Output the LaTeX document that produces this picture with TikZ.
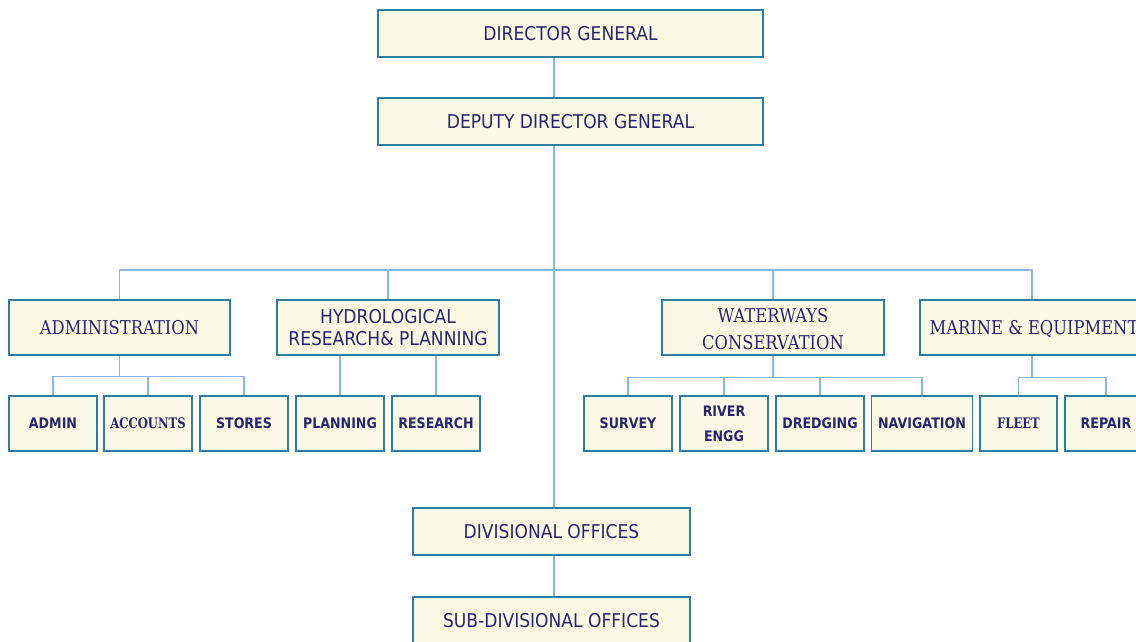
\documentclass[tikz,border=0pt]{standalone}
\usepackage{fontspec}
\newfontfamily\sansf[FakeStretch=0.9]{DejaVu Sans}
\newfontfamily\sansbf[FakeStretch=0.87]{DejaVu Sans}
\newfontfamily\serf[FakeStretch=0.86]{DejaVu Serif}
\newfontfamily\serbf[FakeStretch=0.8]{DejaVu Serif}
\definecolor{boxc}{RGB}{250,250,228}
\definecolor{bordc}{RGB}{45,125,165}
\definecolor{txtc}{RGB}{40,36,115}
\definecolor{conc}{RGB}{140,180,245}
\tikzset{
  box/.style={draw=bordc, fill=boxc, line width=1.6pt, text=txtc, align=center, inner sep=0pt},
  bigsans/.style={box, font=\sansf\fontsize{19}{22}\selectfont},
  bigserif/.style={box, font=\serf\fontsize{19}{27}\selectfont},
  smallsans/.style={box, font=\sansbf\bfseries\fontsize{14.5}{25}\selectfont, minimum width=88pt, minimum height=55pt},
  smallserif/.style={box, font=\serbf\bfseries\fontsize{14.5}{18}\selectfont, minimum width=88pt, minimum height=55pt},
  conn/.style={draw=conc, line width=1.3pt}
}
\begin{document}
\begin{tikzpicture}[x=1pt,y=-1pt]
\useasboundingbox (0,0) rectangle (1136,642);
\clip (0,0) rectangle (1136,642);
\fill[white] (0,0) rectangle (1136,642);

\coordinate (spine) at (554,0);
\coordinate (hub) at (554,270);

\node[bigsans, minimum width=385pt, minimum height=47pt] (dg) at (570.5,33.5) {DIRECTOR GENERAL};
\node[bigsans, minimum width=385pt, minimum height=47pt] (ddg) at (570.5,121.5) {DEPUTY DIRECTOR GENERAL};
\node[bigserif, minimum width=221pt, minimum height=55pt] (adm) at (119.5,327.5) {ADMINISTRATION};
\node[bigsans, minimum width=222pt, minimum height=55pt] (hyd) at (388,327.5) {HYDROLOGICAL\\RESEARCH\& PLANNING};
\node[bigserif, minimum width=222pt, minimum height=55pt] (ww) at (773,327.5) {\rule{0pt}{18pt}WATERWAYS\\CONSERVATION};
\node[bigserif, minimum width=224pt, minimum height=55pt, text depth=0pt] (mar) at (1032,327.5) {\hspace*{4pt}MARINE \& EQUIPMENT};

\node[smallsans] (admin) at (53,423.5) {ADMIN};
\node[smallserif] (acc) at (148,423.5) {ACCOUNTS};
\node[smallsans] (sto) at (244,423.5) {STORES};
\node[smallsans] (plan) at (340,423.5) {PLANNING};
\node[smallsans] (res) at (436,423.5) {RESEARCH};
\node[smallsans] (sur) at (628,423.5) {SURVEY};
\node[smallsans] (riv) at (724,423.5) {RIVER\\ENGG};
\node[smallsans] (dre) at (820,423.5) {DREDGING};
\node[smallsans, minimum width=101pt] (nav) at (922,423.5) {NAVIGATION};
\node[smallserif, minimum width=77pt] (fle) at (1018.5,423.5) {FLEET};
\node[smallsans, minimum width=82pt] (rep) at (1106,423.5) {REPAIR};

\node[bigsans, minimum width=277pt, minimum height=47pt] (div) at (551.5,531.5) {DIVISIONAL OFFICES};
\node[bigsans, minimum width=277pt, minimum height=47pt] (sub) at (551.5,620.5) {SUB-DIVISIONAL OFFICES};

\path (adm.south) ++(0,21) coordinate (admj);
\path (ww.south) ++(0,22) coordinate (wwj);
\path (mar.south) ++(0,22) coordinate (marj);

\draw[conn] (dg.south -| spine) -- (ddg.north -| spine);
\draw[conn] (ddg.south -| spine) -- (div.north -| spine);
\draw[conn] (div.south -| spine) -- (sub.north -| spine);
\draw[conn] (adm.north) |- (hub) -| (mar.north);
\draw[conn] (hyd.north) -- (hyd.north |- hub);
\draw[conn] (ww.north) -- (ww.north |- hub);

\draw[conn] (adm.south) -- (admj);
\draw[conn] (admin.north) |- (admj) -| (sto.north);
\draw[conn] (acc.north) -- (acc.north |- admj);

\draw[conn] (plan.north) -- (plan.north |- hyd.south);
\draw[conn] (res.north) -- (res.north |- hyd.south);

\draw[conn] (ww.south) -- (wwj);
\draw[conn] (sur.north) |- (wwj) -| (nav.north);
\draw[conn] (riv.north) -- (riv.north |- wwj);
\draw[conn] (dre.north) -- (dre.north |- wwj);

\draw[conn] (mar.south) -- (marj);
\draw[conn] (fle.north) |- (marj) -| (rep.north);
\end{tikzpicture}
\end{document}
